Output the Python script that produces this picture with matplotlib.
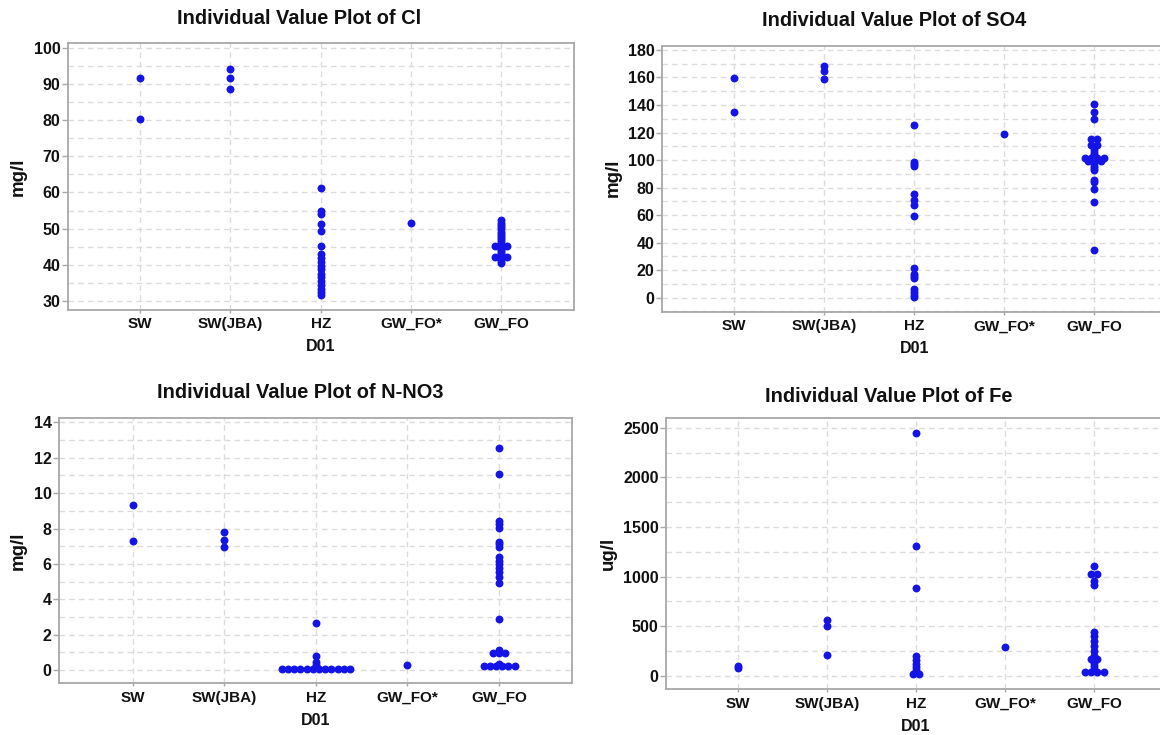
import numpy as np
import matplotlib
matplotlib.use("Agg")
import matplotlib.pyplot as plt
from matplotlib.ticker import MultipleLocator

plt.rcParams['font.family'] = ['Liberation Sans', 'DejaVu Sans']
plt.rcParams['font.weight'] = 'bold'

W, H = 1160, 735
DOT = '#1414e6'
GRID = '#dcdcdc'
SPINE = '#a8a8a8'

groups = ["SW", "SW(JBA)", "HZ", "GW_FO*", "GW_FO"]

# Chloride, mg/l
cl_sw = [91.6, 80.2]
cl_swjba = [94.0, 91.6, 88.7]
cl_hz = [61.2, 54.8, 54.0, 51.3, 49.4, 45.3, 43.0, 42.0, 40.8, 39.8, 38.8,
         37.5, 36.5, 35.4, 34.3, 33.3, 32.4, 31.6]
cl_gwfo_star = [51.5]
cl_gwfo = [52.3, 51.6, 51.0, 50.4, 49.8, 49.2, 48.6, 48.0, 47.4, 46.8, 46.2,
           45.6, 45.2, 45.2, 45.2, 44.8, 44.4, 44.0, 43.5, 43.0, 42.5, 42.1,
           42.1, 42.1, 41.6, 41.0, 40.4]

# Sulphate, mg/l
so4_sw = [159.5, 134.8]
so4_swjba = [168.0, 164.5, 159.0]
so4_hz = [125.5, 98.5, 97.0, 95.5, 75.0, 71.0, 67.5, 59.5, 21.5, 17.5, 15.5,
          14.0, 6.0, 4.0, 2.0, 0.5]
so4_gwfo_star = [119.0]
so4_gwfo = [140.5, 135.2, 130.0, 115.0, 115.0, 111.0, 111.0, 107.0, 105.0,
            103.5, 101.5, 101.5, 101.5, 101.5, 100.0, 99.0, 99.0, 99.0, 97.5,
            96.0, 94.5, 93.0, 85.5, 84.0, 79.0, 69.5, 35.0]

# Nitrate nitrogen, mg/l
no3_sw = [9.33, 7.29]
no3_swjba = [7.82, 7.35, 6.93]
no3_hz = [2.67, 0.81, 0.47, 0.28] + [0.05] * 12
no3_gwfo_star = [0.28]
no3_gwfo = [12.57, 11.06, 8.42, 8.25, 8.01, 7.25, 7.12, 6.97, 6.41, 6.18,
            5.97, 5.75, 5.52, 5.27, 4.93, 2.87, 1.13, 0.94, 0.94, 0.94,
            0.36] + [0.22] * 6

# Iron, ug/l
fe_sw = [100, 82]
fe_swjba = [560, 505, 212]
fe_hz = [2450, 1305, 880, 195, 160, 120, 90, 55, 20, 20]
fe_gwfo_star = [290]
fe_gwfo = [1110, 1025, 1025, 955, 915, 445, 400, 350, 300, 250, 200, 165,
           165, 130, 100, 70] + [35] * 4


def stack_offsets(vals, y_px, x_px, tol=1.2, step=6.2):
    # points that land on (almost) the same height are spread sideways
    vals = np.asarray(vals, float)
    order = np.argsort(vals)
    offs = np.zeros(len(vals))
    i = 0
    while i < len(order):
        j = i + 1
        while j < len(order) and (vals[order[j]] - vals[order[i]]) * y_px < tol:
            j += 1
        n = j - i
        for k in range(n):
            offs[order[i + k]] = (k - (n - 1) / 2) * step / x_px
        i = j
    return offs


def panel(fig, box, data, ylim, major, minor, title, title_pos, ylabel, ylabel_pos):
    left, top, right, bottom = box
    rect = [left / W, 1 - bottom / H, (right - left) / W, (bottom - top) / H]
    ax = fig.add_axes(rect)
    ax.set_xlim(0.2, 5.8)
    ax.set_ylim(*ylim)
    w_px = right - left
    h_px = bottom - top
    x_px = w_px / 5.6
    y_px = h_px / (ylim[1] - ylim[0])

    for i, vals in enumerate(data, start=1):
        off = stack_offsets(vals, y_px, x_px)
        ax.plot(i + off, vals, 'o', color=DOT, ms=5.7, mew=0, zorder=3, clip_on=False)

    ax.set_xticks(range(1, 6))
    ax.set_xticklabels(groups)
    ax.yaxis.set_major_locator(MultipleLocator(major))
    ax.yaxis.set_minor_locator(MultipleLocator(minor))
    ax.tick_params(axis='y', which='major', length=4, width=1, color=SPINE,
                   pad=1.5, labelsize=11.5, labelcolor='#111111')
    ax.tick_params(axis='y', which='minor', length=0)
    ax.tick_params(axis='x', length=2.5, width=1, color=SPINE, pad=3,
                   labelsize=11, labelcolor='#111111')
    for lab in ax.get_xticklabels() + ax.get_yticklabels():
        lab.set_fontweight('bold')

    ax.grid(True, axis='y', which='both', ls=(0, (4, 3)), color=GRID, lw=1, zorder=0)
    ax.grid(True, axis='x', which='major', ls=(0, (4, 3)), color=GRID, lw=1, zorder=0)
    ax.set_axisbelow(True)
    for s in ax.spines.values():
        s.set_color(SPINE)
        s.set_linewidth(1.3)

    ax.text(0.5, -37 / h_px, "D01", transform=ax.transAxes, ha='center',
            va='center', fontsize=11.5, fontweight='bold', color='#111111')
    fig.text(title_pos[0] / W, 1 - title_pos[1] / H, title, ha='left',
             va='center', fontsize=14.4, fontweight='bold', color='#111111')
    fig.text(ylabel_pos[0] / W, 1 - ylabel_pos[1] / H, ylabel, rotation=90,
             ha='center', va='center', fontsize=13.5, fontweight='bold',
             color='#111111')
    return ax


fig = plt.figure(figsize=(W / 100, H / 100), dpi=100)

panel(fig, (68, 42.7, 573.5, 309.5),
      [cl_sw, cl_swjba, cl_hz, cl_gwfo_star, cl_gwfo],
      (27.65, 101.4), 10, 5, "Individual Value Plot of Cl", (176.7, 18.7),
      "mg/l", (18.3, 176.7))

panel(fig, (662.3, 45.7, 1166.3, 311.7),
      [so4_sw, so4_swjba, so4_hz, so4_gwfo_star, so4_gwfo],
      (-10.2, 183.1), 20, 10, "Individual Value Plot of SO4", (761.7, 20.3),
      "mg/l", (613, 178))

panel(fig, (59.3, 418.3, 572.3, 683.3),
      [no3_sw, no3_swjba, no3_hz, no3_gwfo_star, no3_gwfo],
      (-0.75, 14.23), 2, 1, "Individual Value Plot of N-NO3", (156.7, 392.5),
      "mg/l", (18, 551))

panel(fig, (666.3, 417.7, 1165.7, 689.3),
      [fe_sw, fe_swjba, fe_hz, fe_gwfo_star, fe_gwfo],
      (-137, 2601), 500, 250, "Individual Value Plot of Fe", (765, 396.3),
      "ug/l", (608, 553))

fig.savefig("out.png", dpi=100)
